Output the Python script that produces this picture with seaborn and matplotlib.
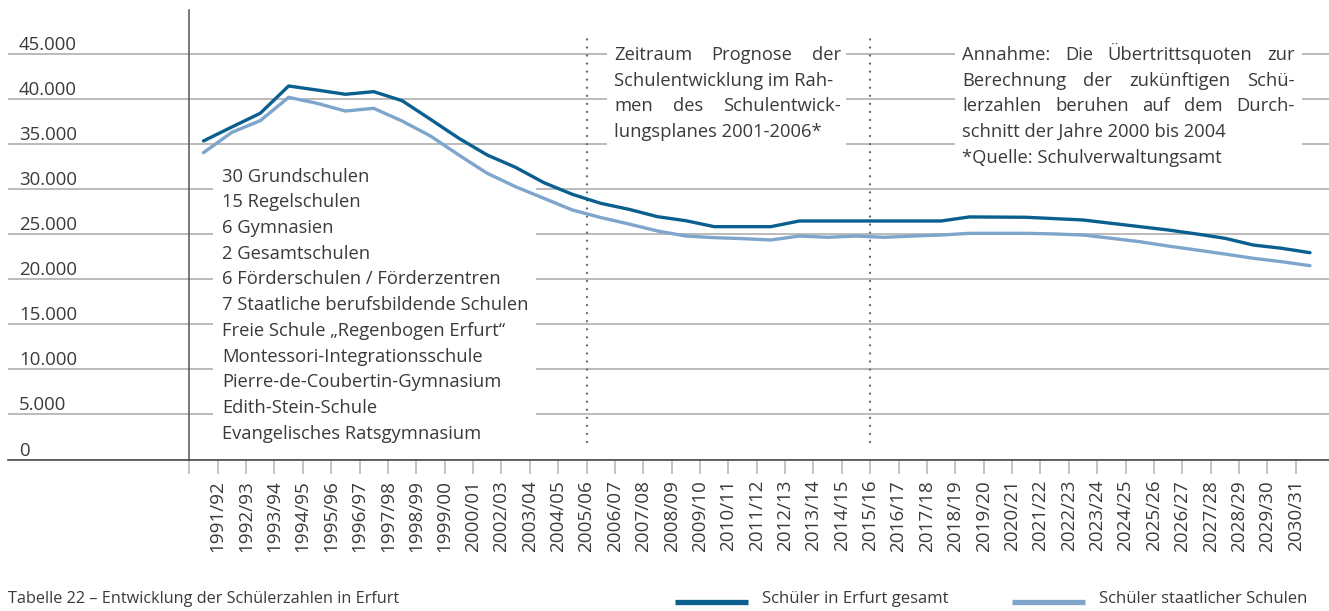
import matplotlib
matplotlib.use("Agg")
import matplotlib.pyplot as plt
from matplotlib.lines import Line2D
from matplotlib.patches import Rectangle
from matplotlib.transforms import ScaledTranslation, blended_transform_factory
import numpy as np
import pandas as pd
import seaborn as sns

# --- data -------------------------------------------------------------------
school_years = [
    "1991/92", "1992/93", "1993/94", "1994/95", "1995/96", "1996/97", "1997/98",
    "1998/99", "1999/00", "2000/01", "2001/02", "2002/03", "2003/04", "2004/05",
    "2005/06", "2006/07", "2007/08", "2008/09", "2009/10", "2010/11", "2011/12",
    "2012/13", "2013/14", "2014/15", "2015/16", "2016/17", "2017/18", "2018/19",
    "2019/20", "2020/21", "2021/22", "2022/23", "2023/24", "2024/25", "2025/26",
    "2026/27", "2027/28", "2028/29", "2029/30", "2030/31",
]

tick_labels = [
    "1991/92", "1992/93", "1993/94", "1994/95", "1995/96", "1996/97", "1997/98",
    "1998/99", "1999/00", "2000/01", "2002/03", "2003/04", "2004/05", "2005/06",
    "2006/07", "2007/08", "2008/09", "2009/10", "2010/11", "2011/12", "2012/13",
    "2013/14", "2014/15", "2015/16", "2016/17", "2017/18", "2018/19", "2019/20",
    "2020/21", "2021/22", "2022/23", "2023/24", "2024/25", "2025/26", "2026/27",
    "2027/28", "2028/29", "2029/30", "2030/31",
]

students_total = [
    35350, 36900, 38420, 41450, 41000, 40530, 40820, 39820, 37750, 35650,
    33790, 32420, 30720, 29430, 28430, 27760, 26950, 26500, 25840, 25840,
    25840, 26470, 26470, 26470, 26470, 26470, 26470, 26920, 26900, 26880,
    26730, 26580, 26210, 25840, 25470, 25030, 24550, 23800, 23440, 22950,
]

students_state = [
    34050, 36310, 37600, 40190, 39530, 38670, 38970, 37560, 35900, 33790,
    31760, 30270, 28980, 27690, 26850, 26130, 25360, 24800, 24620, 24510,
    24360, 24800, 24660, 24800, 24660, 24800, 24910, 25100, 25100, 25100,
    25030, 24910, 24550, 24170, 23690, 23250, 22800, 22330, 21950, 21510,
]

series_names = ["Schüler in Erfurt gesamt", "Schüler staatlicher Schulen"]
series_colors = ["#0a5f8e", "#7ea5cc"]

y_ticks = [0, 5000, 10000, 15000, 20000, 25000, 30000, 35000, 40000, 45000]
y_tick_labels = ["0", "5.000", "10.000", "15.000", "20.000", "25.000",
                 "30.000", "35.000", "40.000", "45.000"]

forecast_marks = ["2005/06", "2015/16"]

school_list = [
    "30 Grundschulen",
    "15 Regelschulen",
    "6 Gymnasien",
    "2 Gesamtschulen",
    "6 Förderschulen / Förderzentren",
    "7 Staatliche berufsbildende Schulen",
    "Freie Schule „Regenbogen Erfurt“",
    "Montessori-Integrationsschule",
    "Pierre-de-Coubertin-Gymnasium",
    "Edith-Stein-Schule",
    "Evangelisches Ratsgymnasium",
]

note_period = [
    "Zeitraum Prognose der",
    "Schulentwicklung im Rah-",
    "men des Schulentwick-",
    "lungsplanes 2001-2006*",
]

note_assumption = [
    "Annahme: Die Übertrittsquoten zur",
    "Berechnung der zukünftigen Schü-",
    "lerzahlen beruhen auf dem Durch-",
    "schnitt der Jahre 2000 bis 2004",
    "*Quelle: Schulverwaltungsamt",
]

caption = "Tabelle 22 – Entwicklung der Schülerzahlen in Erfurt"

# --- styling ----------------------------------------------------------------
sns.set_theme(style="white")
plt.rcParams["font.family"] = ["Open Sans", "DejaVu Sans"]
TEXT = "#3a3a3a"
GRID = "#a8a8a8"

W, H = 1329, 611
fig = plt.figure(figsize=(W / 100, H / 100), dpi=100)
fig.patch.set_facecolor("white")


def fx(px):
    return px / W


def fy(py):
    return 1 - py / H


ax = fig.add_axes([fx(8), fy(459.5), fx(1329) - fx(8), fy(10) - fy(459.5)])
ax.set_facecolor("white")

positions = np.arange(len(school_years))
df = pd.DataFrame({
    "pos": np.concatenate([positions, positions]),
    "value": students_total + students_state,
    "series": [series_names[0]] * len(positions) + [series_names[1]] * len(positions),
})

sns.lineplot(data=df, x="pos", y="value", hue="series",
             palette=dict(zip(series_names, series_colors)),
             linewidth=2.4, legend=False, ax=ax, zorder=5, sort=False)
for ln in ax.get_lines():
    ln.set_solid_joinstyle("round")

ax.set_xlim(-6.891, 39.67)
ax.set_ylim(0, 49883)

# horizontal grid with value labels sitting on top of each line
ax.set_axisbelow(True)
ax.set_yticks(y_ticks)
ax.set_yticklabels([])
ax.grid(axis="y", color=GRID, linewidth=1.1)
ax.grid(axis="x", visible=False)
ax.tick_params(axis="y", length=0)
ylab_tr = blended_transform_factory(ax.transAxes, ax.transData) + \
    ScaledTranslation(0, 0.04, fig.dpi_scale_trans)
for v, lab in zip(y_ticks, y_tick_labels):
    ax.text(11 / 1321, v, lab, transform=ylab_tr, ha="left", va="baseline",
            fontsize=13.4, color=TEXT)

# category ticks between school years
tick_pos = np.arange(len(tick_labels)) + 0.5
ax.set_xticks(np.concatenate([[-0.5], tick_pos]))
ax.set_xticklabels([""] + tick_labels, rotation=90)
ax.tick_params(axis="x", length=10.1, width=1.1, color="#b4b4b4", pad=4.5,
               labelsize=13.6, labelcolor=TEXT, bottom=True)
ax.set_xlabel("")
ax.set_ylabel("")

for side in ("top", "right"):
    ax.spines[side].set_visible(False)
ax.spines["left"].set_position(("data", -0.5))
ax.spines["left"].set_color("#555555")
ax.spines["left"].set_linewidth(1.1)
ax.spines["bottom"].set_color("#4a4a4a")
ax.spines["bottom"].set_linewidth(1.2)

# dotted markers for the planning period
for lab in forecast_marks:
    xm = tick_pos[tick_labels.index(lab)]
    ax.plot([xm, xm], [1940, 47110], color="#4f7283", linewidth=1.7,
            linestyle=(0, (0.01, 3.4)), dash_capstyle="round", zorder=4)

# white panels behind the text blocks
for x0, y0, x1, y1 in [(213, 150, 536, 446), (607, 38, 846, 150), (955, 38, 1302, 172)]:
    ax.add_patch(Rectangle((fx(x0), fy(y1)), fx(x1) - fx(x0), fy(y0) - fy(y1),
                           transform=fig.transFigure, facecolor="white",
                           edgecolor="none", zorder=2))

FS = 13.2
renderer = fig.canvas.get_renderer()


def text_width(s, size):
    t = fig.text(0, 0, s, fontsize=size)
    w = t.get_window_extent(renderer).width
    t.remove()
    return w


def put_line(text, x0, base, x1=None, size=FS):
    if x1 is None:
        fig.text(fx(x0), fy(base), text, fontsize=size, color=TEXT,
                 va="baseline", ha="left", zorder=6)
        return
    words = text.split(" ")
    widths = [text_width(w, size) for w in words]
    gap = (x1 - x0 - sum(widths)) / max(len(words) - 1, 1)
    gap = max(gap, text_width("a", size) * 0.5)
    x = x0
    for w, wd in zip(words, widths):
        fig.text(fx(x), fy(base), w, fontsize=size, color=TEXT,
                 va="baseline", ha="left", zorder=6)
        x += wd + gap


LS = 25.7
for k, line in enumerate(school_list):
    put_line(line, 222, 181.7 + k * LS)

for k, line in enumerate(note_period):
    put_line(line, 614, 60 + k * LS, x1=841 if k in (0, 2) else None)

for k, line in enumerate(note_assumption):
    put_line(line, 962, 60 + k * LS, x1=1295 if k in (0, 1, 2) else None)

# caption and legend row
fig.text(fx(8), fy(603), caption, fontsize=11.7, color=TEXT, va="baseline", ha="left")
for (xa, xb, xt), name, col in zip([(675, 748, 762), (1012, 1085, 1099)],
                                   series_names, series_colors):
    fig.add_artist(Line2D([fx(xa), fx(xb)], [fy(602), fy(602)], color=col,
                          linewidth=3.8, solid_capstyle="butt",
                          transform=fig.transFigure))
    fig.text(fx(xt), fy(603), name, fontsize=12.0, color=TEXT, va="baseline", ha="left")

fig.savefig("out.png", dpi=100, facecolor="white")
